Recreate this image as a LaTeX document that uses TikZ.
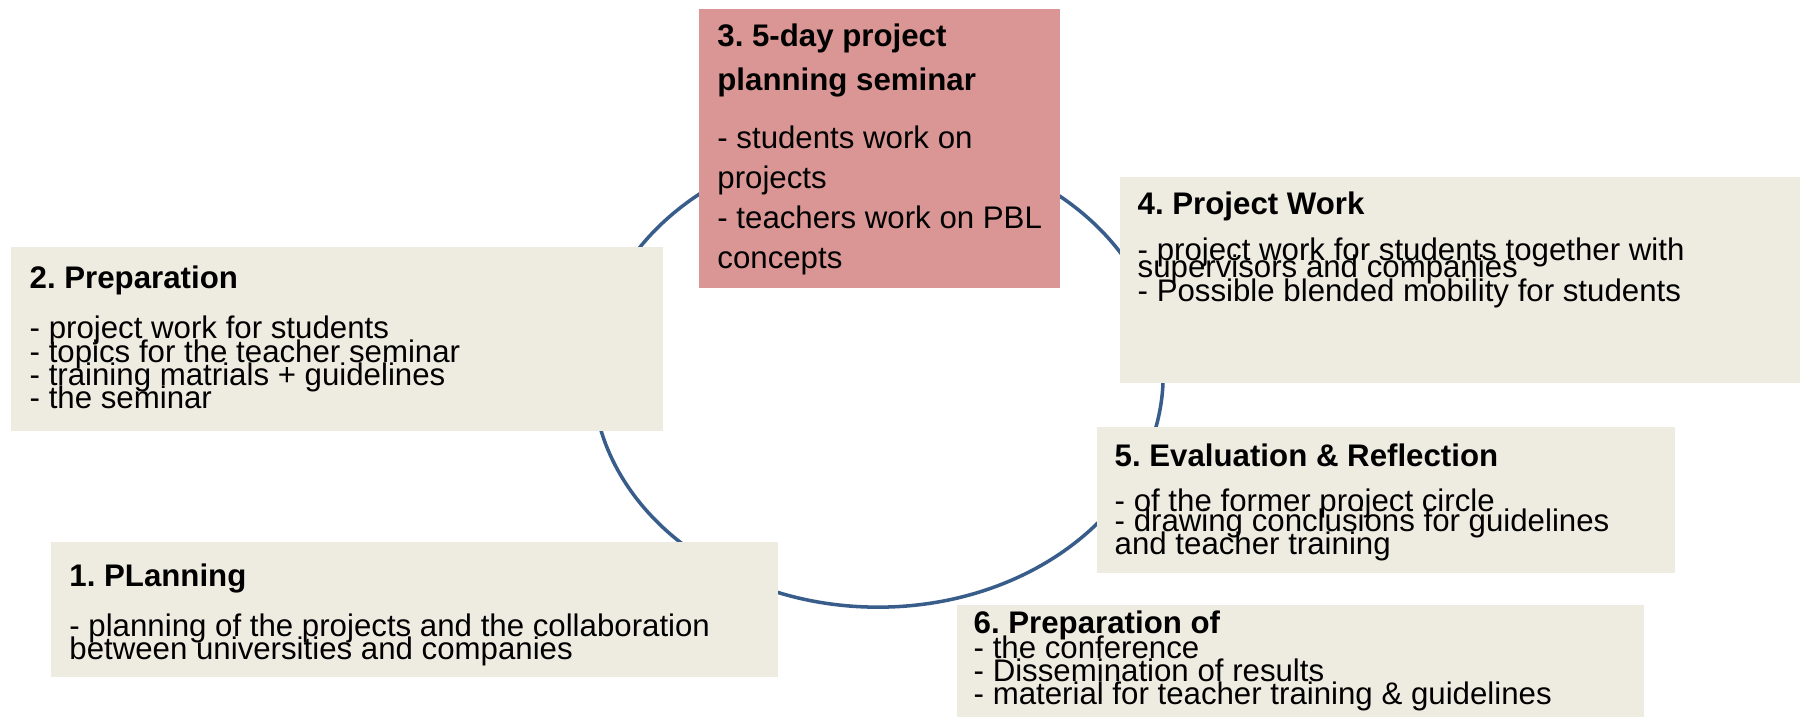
\documentclass[tikz,border=0pt]{standalone}
\usepackage{fontspec}
\setmainfont{Liberation Sans}
\frenchspacing
\definecolor{cycleblue}{HTML}{385D8A}
\definecolor{paper}{HTML}{EEECE1}
\definecolor{rose}{HTML}{D99694}
\tikzset{
  txt/.style={anchor=base west, inner sep=0pt, font=\fontsize{8.88pt}{10.6pt}\selectfont},
  head/.style={txt, font=\fontsize{8.88pt}{10.6pt}\selectfont\bfseries}
}

\begin{document}
\begin{tikzpicture}[x=0.01cm, y=-0.01cm]
  \fill[white] (0,0) rectangle (1800,717);
  \useasboundingbox (0,0) rectangle (1800,717);
  % cycle
  \draw[cycleblue, line width=1pt] (878,375) ellipse [x radius=2.85cm, y radius=2.32cm];
  % 1. planning
  \fill[paper] (50.5,542.3) rectangle (777.8,676.7);
  \node[head] (plan) at (68.7,586) {1. PLanning};
  \foreach \y/\t [count=\i] in {636/- planning of the projects and the collaboration,
      659.3/between universities and companies}
    \node[txt] (plan-\i) at (68.7,\y) {\t};
  % 2. preparation
  \fill[paper] (11,247) rectangle (663,431);
  \node[head] (prep) at (29,288.3) {2. Preparation};
  \foreach \y/\t [count=\i] in {338.3/- project work for students,
      362.3/- topics for the teacher seminar,
      385.5/- training matrials + guidelines,
      408.5/- the seminar}
    \node[txt] (prep-\i) at (29,\y) {\t};
  % 3. seminar
  \fill[rose] (699,9) rectangle (1060,288.3);
  \node[head] (sem) at (716.7,46.7) {3. 5-day project};
  \node[head] (sem-t) at (716.7,90.7) {planning seminar};
  \foreach \y/\t [count=\i] in {148/- students work on,
      188/projects,
      228/- teachers work on PBL,
      268/concepts}
    \node[txt] (sem-\i) at (716.7,\y) {\t};
  % 4. project work
  \fill[paper] (1120,177) rectangle (1800,382.7);
  \node[head] (work) at (1137,214.3) {4. Project Work};
  \foreach \y/\t [count=\i] in {260/- project work for students together with,
      277.3/supervisors and companies,
      301.7/- Possible blended mobility for students}
    \node[txt] (work-\i) at (1137,\y) {\t};
  % 5. evaluation
  \fill[paper] (1096.8,427.3) rectangle (1674.6,572.7);
  \node[head] (eval) at (1114,466.7) {5. Evaluation \& Reflection};
  \foreach \y/\t [count=\i] in {511.7/- of the former project circle,
      531.7/- drawing conclusions for guidelines,
      554.3/and teacher training}
    \node[txt] (eval-\i) at (1114,\y) {\t};
  % 6. dissemination
  \fill[paper] (956.7,605.3) rectangle (1643.5,717);
  \node[head] (diss) at (973,633.3) {6. Preparation of};
  \foreach \y/\t [count=\i] in {658.3/- the conference,
      681.7/- Dissemination of results,
      704.3/- material for teacher training \& guidelines}
    \node[txt] (diss-\i) at (973,\y) {\t};
\end{tikzpicture}
\end{document}
